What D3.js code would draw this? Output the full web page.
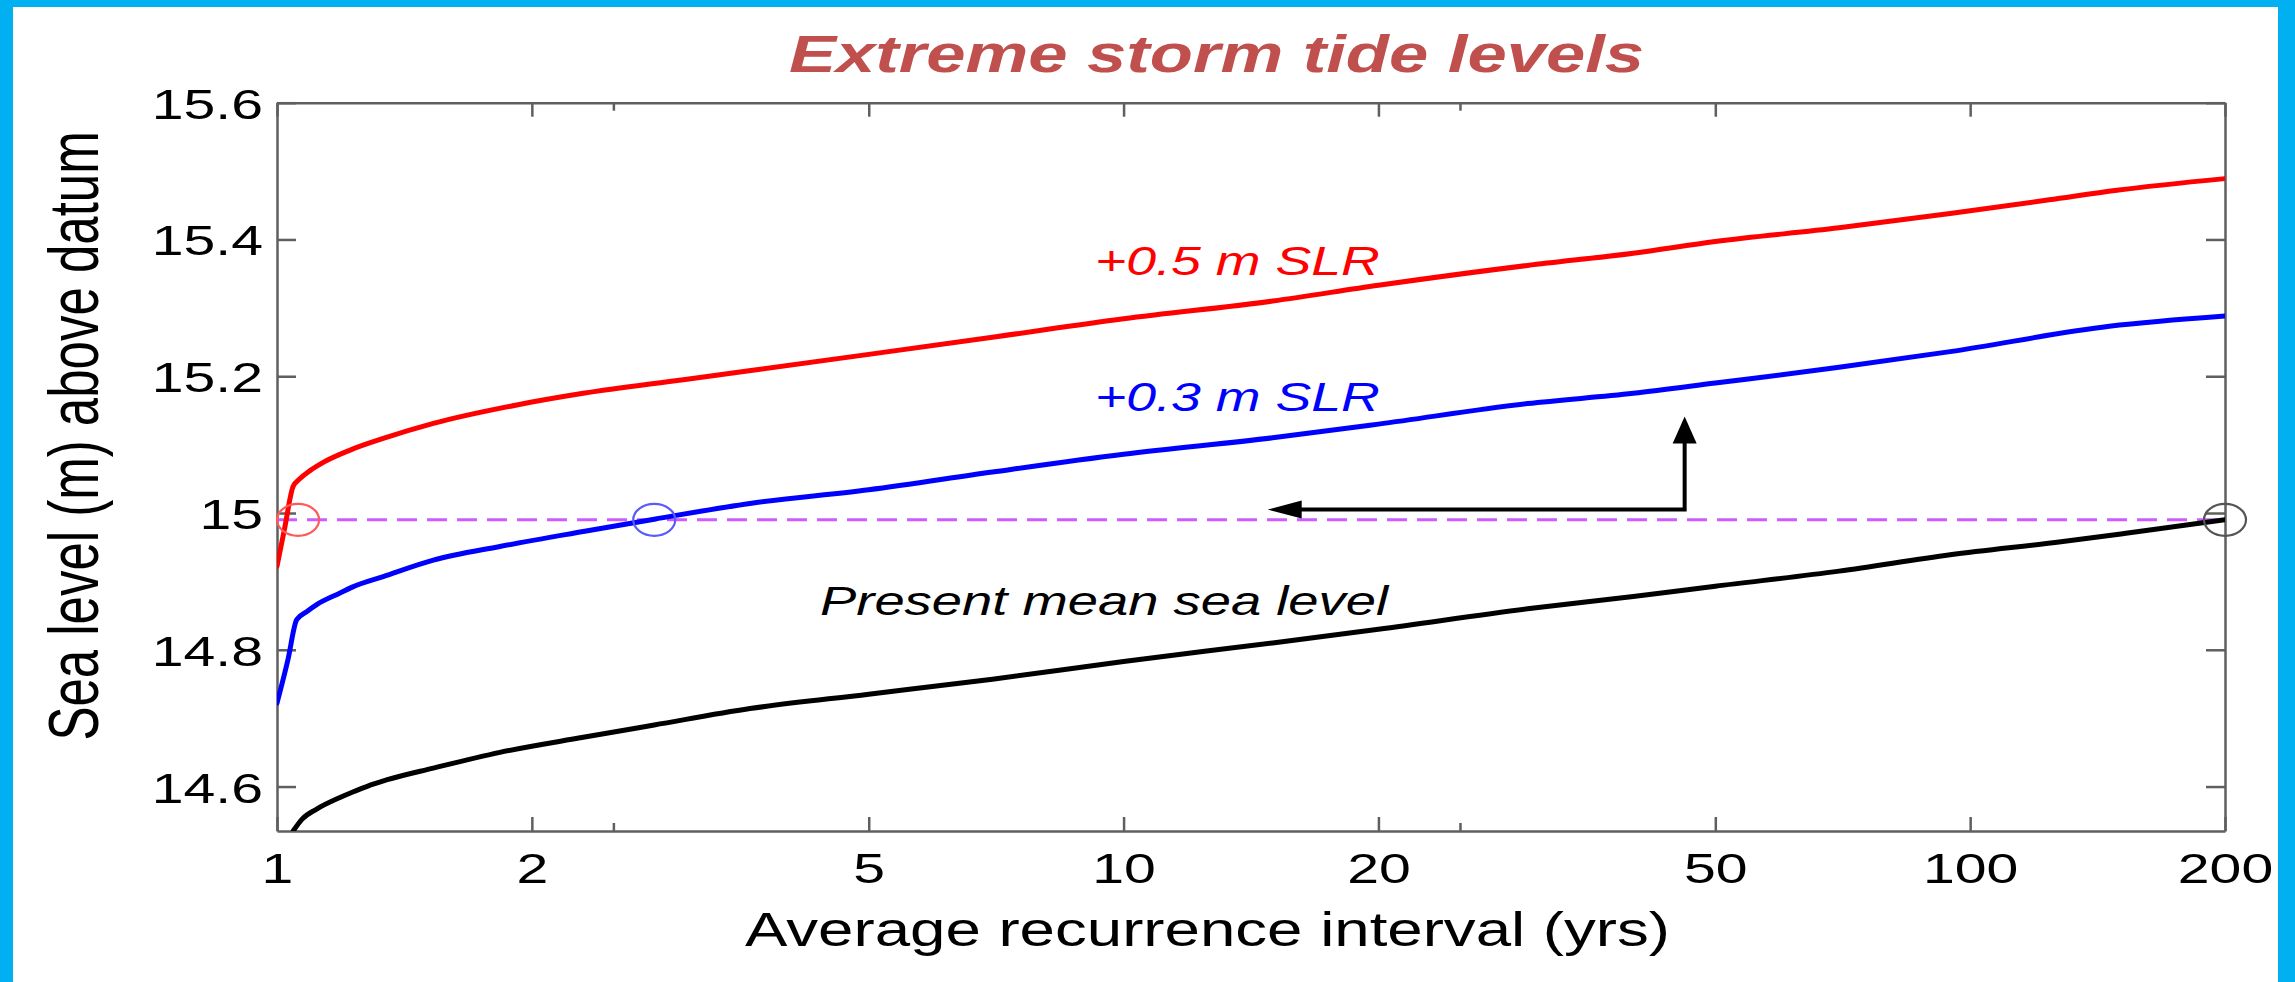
<!DOCTYPE html>
<html><head><meta charset="utf-8">
<script src="https://cdn.jsdelivr.net/npm/d3@7"></script>
<style>
html,body{margin:0;padding:0;background:#fff;overflow:hidden;}
svg{display:block;}
text{font-family:"Liberation Sans", Arial, sans-serif;}
</style></head><body>
<svg id="chart" width="2295" height="982"></svg>
<script>
// ---------------- data ----------------
const xTickValues = [1, 2, 5, 10, 20, 50, 100, 200];
const xMinorTicks = [2.5, 25];
const yTickValues = [14.6, 14.8, 15.0, 15.2, 15.4, 15.6];

// Present mean sea level
const presentX = [1.045, 1.07, 1.114, 1.187, 1.229, 1.276, 1.35, 1.53, 1.833, 2.3, 2.79, 3.62, 5, 7, 10, 15, 20, 30, 40, 50, 70, 94.7, 128, 152, 200];
const presentY = [14.535, 14.552, 14.567, 14.584, 14.592, 14.600, 14.610, 14.627, 14.650, 14.672, 14.690, 14.714, 14.735, 14.757, 14.783, 14.81, 14.83, 14.86, 14.878, 14.893, 14.915, 14.939, 14.958, 14.970, 14.99];

// +0.3 m SLR
const slr03X = [1.0, 1.03, 1.055, 1.085, 1.114, 1.187, 1.229, 1.335, 1.53, 1.833, 2.3, 2.79, 3.62, 5, 7, 10, 15, 20, 30, 40, 50, 70, 94.7, 146, 200];
const slr03Y = [14.722, 14.785, 14.844, 14.856, 14.866, 14.883, 14.892, 14.907, 14.931, 14.951, 14.973, 14.991, 15.014, 15.034, 15.06, 15.086, 15.11, 15.13, 15.16, 15.175, 15.19, 15.213, 15.236, 15.273, 15.288];

// +0.5 m SLR
const slr05X = [1.0, 1.02, 1.045, 1.064, 1.094, 1.13, 1.22, 1.335, 1.53, 1.92, 2.3, 3.02, 5, 7, 10, 15, 20, 30, 40, 50, 70, 94.7, 124, 149, 200];
const slr05Y = [14.922, 14.975, 15.039, 15.050, 15.062, 15.073, 15.092, 15.109, 15.131, 15.158, 15.175, 15.195, 15.232, 15.257, 15.284, 15.31, 15.333, 15.362, 15.38, 15.397, 15.417, 15.438, 15.458, 15.472, 15.489];

// threshold line and the crossings circled on it
const thresholdLevel = 14.99;
const crossingX = [1.059, 2.79, 200];

// annotation texts and where they sit (data units)
const labelTexts = ["+0.5 m SLR", "+0.3 m SLR", "Present mean sea level"];
const labelX = [9.25, 9.25, 4.38];
const labelY = [15.348, 15.149, 14.851];

// L-shaped arrow (data units)
const arrowCornerX = 46, arrowLevel = 15.005, arrowTopLevel = 15.141, arrowLeftX = 14.8;

const titleText = "Extreme storm tide levels";
const xTitle = "Average recurrence interval (yrs)";
const yTitle = "Sea level (m) above datum";

// ---------------- layout ----------------
const W = 2295, H = 982;
const plot = {left: 277, right: 2225, top: 102.7, bottom: 831};
const SX = 1.33;            // horizontal stretch of the original picture
const axisColor = "#5f5f5f";

const svg = d3.select("#chart");

// blue frame
svg.append("rect").attr("x", 0).attr("y", 0).attr("width", 13).attr("height", H).attr("fill", "#00b0f0");
svg.append("rect").attr("x", 0).attr("y", 0).attr("width", W).attr("height", 7).attr("fill", "#00b0f0");
svg.append("rect").attr("x", W - 17).attr("y", 0).attr("width", 17).attr("height", H).attr("fill", "#00b0f0");

const x = d3.scaleLog().domain([1, 200]).range([plot.left, plot.right]);
const y = d3.scaleLinear().domain([14.535, 15.6]).range([plot.bottom, plot.top]);

svg.append("defs").append("clipPath").attr("id", "clip")
  .append("rect").attr("x", plot.left).attr("y", plot.top)
  .attr("width", plot.right - plot.left).attr("height", plot.bottom - plot.top);

// ---------------- axes ----------------
function styleAxis(g) {
  g.attr("font-size", null).attr("font-family", null);
  g.selectAll("path.domain").attr("stroke", axisColor).attr("stroke-width", 2.5);
  g.selectAll(".tick line").attr("stroke", axisColor).attr("stroke-width", 2.5);
}

const gBottom = svg.append("g").attr("transform", `translate(0,${plot.bottom})`)
  .call(d3.axisBottom(x).tickValues(xTickValues).tickFormat(d3.format("d"))
    .tickSizeInner(-14).tickSizeOuter(0).tickPadding(21));
styleAxis(gBottom);
gBottom.selectAll("text").attr("fill", "#000").style("font-size", "43px")
  .attr("transform", `scale(${SX},1)`);

const gTop = svg.append("g").attr("transform", `translate(0,${plot.top})`)
  .call(d3.axisTop(x).tickValues(xTickValues).tickFormat("").tickSizeInner(-14).tickSizeOuter(0));
styleAxis(gTop);

const gLeft = svg.append("g").attr("transform", `translate(${plot.left},0)`)
  .call(d3.axisLeft(y).tickValues(yTickValues).tickFormat(d => String(+d.toFixed(1)))
    .tickSizeInner(-19).tickSizeOuter(0));
styleAxis(gLeft);
gLeft.selectAll("text").attr("fill", "#000").style("font-size", "43px")
  .attr("x", -14 / SX).attr("dy", "0.36em").attr("transform", `scale(${SX},1)`);

const gRight = svg.append("g").attr("transform", `translate(${plot.right},0)`)
  .call(d3.axisRight(y).tickValues(yTickValues).tickFormat("").tickSizeInner(-19).tickSizeOuter(0));
styleAxis(gRight);

// minor ticks
[plot.bottom, plot.top].forEach((yy, i) => {
  svg.append("g").selectAll("line").data(xMinorTicks).join("line")
    .attr("x1", d => x(d)).attr("x2", d => x(d))
    .attr("y1", yy).attr("y2", i === 0 ? yy - 8 : yy + 8)
    .attr("stroke", axisColor).attr("stroke-width", 2.5);
});

// ---------------- marks ----------------
const plotG = svg.append("g").attr("clip-path", "url(#clip)");

plotG.append("line")
  .attr("x1", x(1)).attr("x2", x(200))
  .attr("y1", y(thresholdLevel)).attr("y2", y(thresholdLevel))
  .attr("stroke", "#cc5cff").attr("stroke-width", 3).attr("stroke-dasharray", "20,10");

const line = d3.line().x(d => x(d[0])).y(d => y(d[1])).curve(d3.curveMonotoneX);
const series = [
  {xs: presentX, ys: presentY, color: "#000000"},
  {xs: slr03X, ys: slr03Y, color: "#0000ff"},
  {xs: slr05X, ys: slr05Y, color: "#ff0000"}
];
series.forEach(s => {
  plotG.append("path").datum(s.xs.map((v, i) => [v, s.ys[i]]))
    .attr("d", line).attr("fill", "none").attr("stroke", s.color)
    .attr("stroke-width", 5).attr("stroke-linejoin", "round").attr("stroke-linecap", "round");
});

// circles at the crossings
const circleColors = ["#ff5a5a", "#5a5aff", "#555555"];
svg.append("g").selectAll("ellipse").data(crossingX).join("ellipse")
  .attr("cx", d => x(d)).attr("cy", y(thresholdLevel))
  .attr("rx", 21).attr("ry", 16)
  .attr("fill", "none").attr("stroke", (d, i) => circleColors[i]).attr("stroke-width", 2.2);

// L-shaped arrow
const ax = x(arrowCornerX), ay = y(arrowLevel), atop = y(arrowTopLevel), aleft = x(arrowLeftX);
const arrowG = svg.append("g");
arrowG.append("path")
  .attr("d", `M${ax},${atop + 24} L${ax},${ay} L${aleft + 30},${ay}`)
  .attr("fill", "none").attr("stroke", "#000").attr("stroke-width", 4);
arrowG.append("path")
  .attr("d", `M${ax},${atop} L${ax - 12},${atop + 27} L${ax + 12},${atop + 27} Z`)
  .attr("fill", "#000");
arrowG.append("path")
  .attr("d", `M${aleft},${ay} L${aleft + 34},${ay - 9} L${aleft + 34},${ay + 9} Z`)
  .attr("fill", "#000");

// curve labels
const labelColors = ["#ff0000", "#0000ff", "#000000"];
const labelWidths = [285, 285, 568];
svg.append("g").selectAll("text").data(labelTexts).join("text")
  .attr("x", (d, i) => x(labelX[i])).attr("y", (d, i) => y(labelY[i]))
  .attr("fill", (d, i) => labelColors[i])
  .style("font-size", "40px").style("font-style", "italic")
  .attr("textLength", (d, i) => labelWidths[i]).attr("lengthAdjust", "spacingAndGlyphs")
  .text(d => d);

// ---------------- titles ----------------
svg.append("text").attr("x", 789).attr("y", 72)
  .attr("fill", "#c0504d").style("font-size", "51px").style("font-weight", "bold").style("font-style", "italic")
  .attr("textLength", 855).attr("lengthAdjust", "spacingAndGlyphs")
  .text(titleText);

svg.append("text").attr("x", 745).attr("y", 946)
  .attr("fill", "#000").style("font-size", "48px")
  .attr("textLength", 925).attr("lengthAdjust", "spacingAndGlyphs")
  .text(xTitle);

svg.append("text")
  .attr("transform", `translate(98,436) scale(1.38,1) rotate(-90)`)
  .attr("text-anchor", "middle").attr("fill", "#000").style("font-size", "51px")
  .text(yTitle);
</script>
</body></html>
